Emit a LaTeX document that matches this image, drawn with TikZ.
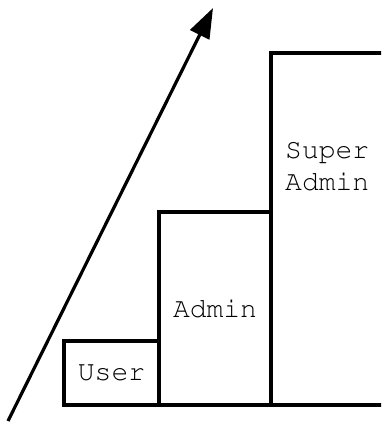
\documentclass[tikz,border=0pt]{standalone}
\usepackage[T1]{fontenc}
\usepackage{courier}
\usetikzlibrary{arrows.meta,positioning}
\tikzset{
  bar/.style={draw, line width=3.2pt, outer sep=0pt, inner sep=0pt, anchor=south west,
    font=\ttfamily\fontsize{28}{32}\selectfont},
  rise/.style={line width=3.2pt, -{Triangle[length=30pt,width=21pt]}}
}
\begin{document}
\begin{tikzpicture}[x=1pt,y=1pt]
\useasboundingbox (0,0) rectangle (381,423);
\clip (0,0) rectangle (381,423);
\node[bar, minimum width=95pt, minimum height=64pt] (user) at (64,18) {User};
\node[bar, minimum width=112pt, minimum height=193pt] (admin) at (user.south east) {Admin};
\node[bar, minimum width=140pt, minimum height=352pt] (super) at (admin.south east) {};
\node[font=\ttfamily\fontsize{28}{32}\selectfont, align=left, anchor=west, inner sep=0pt] (superlabel) at (285,257) {Super\\Admin};
\coordinate (start) at (8,2);
\coordinate (tip) at (213,415);
\draw[rise] (start) -- (tip);
\end{tikzpicture}
\end{document}
